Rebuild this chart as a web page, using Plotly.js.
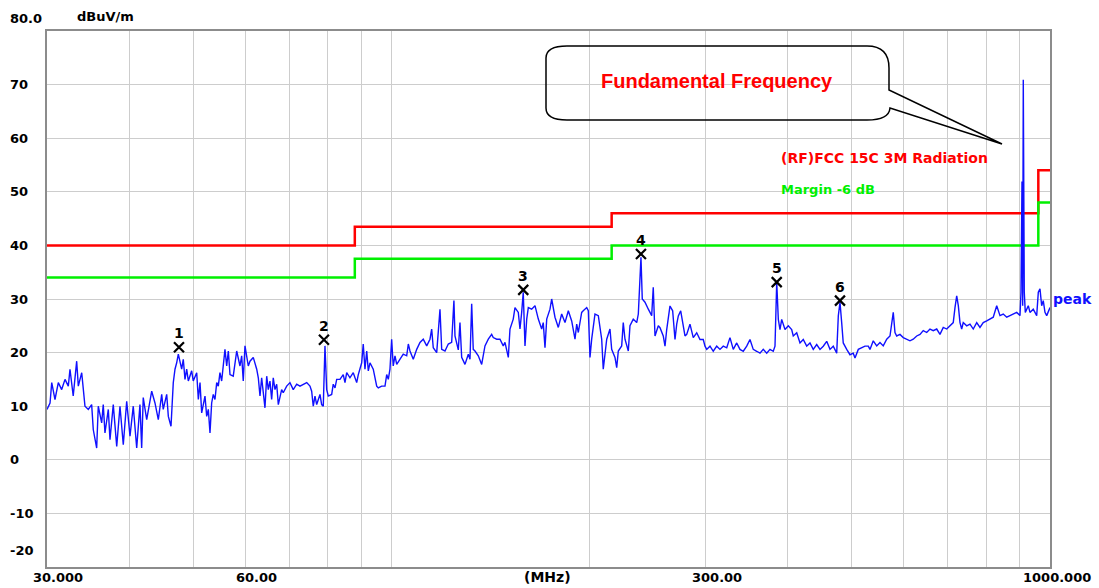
<!DOCTYPE html>
<html>
<head>
<meta charset="utf-8">
<script src="https://cdn.plot.ly/plotly-3.0.1.min.js"></script>
<style>html,body{margin:0;padding:0;background:#fff;}#chart{width:1099px;height:588px;}</style>
</head>
<body>
<div id="chart"></div>
<script>
// ---- Data ----
const peakFreq = [
30.00,30.32,30.50,30.85,31.21,31.58,31.95,32.32,32.51,32.88,33.28,33.47,33.87,34.26,34.66,35.07,35.27,35.69,35.89,36.32,36.52,36.74,37.17,37.39,37.82,38.28,38.72,39.17,39.64,40.10,40.56,41.05,41.52,41.77,42.00,42.51,43.26,43.76,44.27,44.80,45.04,45.59,45.85,46.28,46.65,46.93,47.21,47.48,48.04,48.31,48.60,48.89,49.17,49.75,50.02,50.63,50.92,51.22,51.52,52.12,52.43,52.73,53.04,53.35,53.65,53.97,54.30,54.60,54.92,55.25,55.89,56.23,56.55,56.88,57.53,58.23,58.90,59.25,59.58,59.94,60.64,
61.00,61.70,62.45,62.80,63.17,63.54,64.28,64.67,65.03,65.41,65.80,66.17,66.57,66.97,67.35,68.14,68.52,69.35,70.15,70.96,71.82,72.65,73.48,74.38,75.23,75.68,76.10,76.56,77.02,77.91,78.37,78.81,79.28,79.76,80.21,81.16,81.61,82.11,82.60,83.55,84.51,85.03,85.54,86.52,87.52,88.58,89.08,90.14,90.63,91.18,91.74,92.25,92.79,93.86,95.00,95.53,96.66,97.79,98.38,98.93,99.51,100.10,100.65,101.27,101.88,103.05,104.24,105.50,106.10,106.72,107.95,109.26,110.52,111.79,113.15,114.45,115.13,115.77,117.17,118.52,119.23,120.61,122.02,123.46,124.44,124.90,126.36,
127.10,127.86,129.35,130.86,131.63,132.41,133.14,133.95,135.51,137.12,138.71,140.33,141.99,142.78,144.52,146.18,147.86,148.76,150.50,151.38,153.12,154.05,155.85,156.77,157.70,158.57,159.54,160.50,161.40,163.31,165.22,167.15,169.13,170.06,171.09,172.13,174.11,175.14,177.18,179.25,181.37,183.49,185.63,187.83,190.01,191.16,192.23,194.51,195.58,197.96,199.07,200.24,201.43,203.77,206.15,208.60,209.75,212.30,214.74,216.02,218.53,219.85,221.08,223.70,224.94,226.30,228.95,230.29,232.94,235.77,237.10,238.49,239.31,240.40,242.70,245.53,248.44,249.82,251.34,254.27,
255.77,258.70,260.28,261.85,264.86,267.35,269.54,271.17,272.69,274.97,277.44,279.12,280.81,284.04,287.31,290.80,294.15,297.53,299.34,301.15,304.62,308.12,311.87,315.46,319.08,322.96,326.67,330.43,334.45,338.30,342.19,346.35,350.34,354.36,358.67,362.80,366.98,371.44,375.71,380.03,382.34,384.65,386.81,389.08,391.40,395.94,400.56,405.31,407.55,412.51,417.26,422.05,427.18,432.10,437.06,442.38,447.47,452.62,458.12,463.40,468.72,474.41,477.07,479.88,482.73,485.40,491.30,496.95,502.67,505.72,511.63,517.69,523.71,529.83,
532.94,539.07,545.62,551.90,558.25,565.03,571.54,578.11,581.62,585.13,591.87,598.67,605.95,612.93,619.97,627.51,634.74,642.03,649.84,657.32,664.87,672.96,680.70,688.53,696.90,704.92,713.03,717.36,721.70,725.74,730.01,734.34,738.39,747.37,755.98,764.67,773.97,782.87,791.87,801.50,810.72,820.04,830.01,839.56,849.21,859.54,869.43,879.43,890.12,900.37,903.56,906.72,908.93,910.80,914.00,917.27,926.95,932.40,943.12,954.58,959.94,965.57,971.31,976.67,982.60,988.54,1000.00
];
const peakLevel = [
9.4,10.6,14.4,11.25,14.4,13.1,15,13.75,16.9,11.9,18.4,13.75,16.25,10,9.4,10.3,5.6,2.2,10,6.9,10.3,5,9.4,3.75,10.3,2.5,10,2.8,10.9,4.4,10,2.2,10.3,2.2,11.6,7.5,12.8,10.6,7.5,12.2,9.4,12.2,8.1,6.25,14.4,16.9,18.1,19.7,16.9,18.75,15,16.9,14.7,16.6,14.7,16.25,11.25,14.4,8.75,11.9,8.1,9.4,5,10.6,12.2,11.25,14.4,13.75,16.25,14.7,20.6,17.5,20.3,15.9,15.6,20.3,17.5,19.4,14.7,21.25,17.5,
18.4,19.1,16.9,15.3,11.9,15.3,9.7,15.6,13.1,14.7,11.25,15.3,13.1,14.1,10.3,13.1,12.5,13.75,14.4,13.1,14.1,13.75,14.1,14.4,13.75,12.8,10,11.9,10.3,12.2,10.3,10,21.25,13.1,11.9,12.2,14.1,13.4,15,15,15.9,14.4,16.25,15.3,16.25,14.4,15.9,18.1,21.6,16.9,20.3,16.6,18.1,16.9,13.75,13.4,13.75,13.75,15.9,15,16.9,22.5,17.5,19.4,17.8,18.75,19.7,19.4,21.6,20.3,18.75,20.6,21.9,22.5,21.25,22.5,24.4,20.9,20,28.1,20.6,20.3,21.6,21.9,29.7,23.1,20.5,
25.6,19.1,17.8,19.7,18.75,29.1,20.6,20.3,19.4,17.8,21.25,22.5,23.4,22.8,22.5,22.5,21.25,21.9,19.1,24.4,26.25,28.4,27.5,24.4,27.5,31.25,21.25,26.25,28.4,28.1,28.75,26.25,24.4,25.6,20.9,26.25,28.1,30,26.6,24.7,27.2,25.6,27.8,25.9,22.5,25.3,23.75,27.5,27.8,28.4,27.8,19.1,22.5,27.2,26.9,22.5,16.9,22.5,24.4,20.6,19.1,17.2,20.3,21.25,25.6,22.5,20.3,25,26.25,25.6,27.2,32.5,37.8,30,29.4,28.1,26.9,32.2,23.1,25,
24.65,23.1,21.2,24.3,28.7,27.8,22.45,25.3,26.85,27.8,25,23.1,23.4,25.3,22.8,23.7,22.45,22.45,21.2,20.6,21.2,20.25,21.2,20.6,21.2,20.9,22.8,20.6,21.8,20.6,20.25,21.2,22.45,20.6,20.25,19.9,20.6,19.9,20.6,20.25,21.2,33.1,26.2,24.3,26.2,24.3,25,24.3,23.1,23.7,21.8,22.45,21.2,21.8,20.6,21.5,20.6,21.2,22.1,20.6,21.2,19.9,26.85,29.4,25.6,21.8,20.6,19.6,19.9,19,20.6,20.9,21.2,21.2,
20.6,22.2,21.25,21.9,21.25,22.5,23.1,27.5,23.75,23.1,23.4,22.8,22.5,22.2,22.5,23.1,23.4,24.1,23.75,24.4,24.1,24.4,23.4,24.7,24.4,25,25.6,28.4,30.6,28.75,25.6,24.4,25.6,25,25.3,24.4,25.6,24.7,25.6,25.9,26.25,26.6,28.75,26.9,27.2,26.6,26.9,27.2,27.5,26.9,31.25,51.9,28.75,70.9,31.25,27.5,28.75,27.5,28.1,26.9,31.25,31.9,28.75,29.7,27.5,26.9,28.4
];

const limitFreq  = [30, 88, 88, 216, 216, 960, 960, 1000];
const limitLevel = [40, 40, 43.5, 43.5, 46, 46, 54, 54];
const marginFreq  = [30, 88, 88, 216, 216, 960, 960, 1000];
const marginLevel = [34, 34, 37.5, 37.5, 40, 40, 48, 48];

const markerFreq  = [47.59, 79.0, 158.57, 239.3, 384.65, 479.88];
const markerLevel = [21.0, 22.4, 31.7, 38.4, 33.15, 29.7];
const markerLabel = ['1', '2', '3', '4', '5', '6'];

const gridFreq = [40, 50, 60, 70, 80, 90, 100, 200, 300, 400, 500, 600, 700, 800, 900];
const xTickVals = [30, 60, 300, 1000];
const xTickText = ['30.000', '60.00', '300.00', '1000.000'];
const yTickVals = [70, 60, 50, 40, 30, 20, 10, 0, -10];
const yTickText = ['70', '60', '50', '40', '30', '20', '10', '0', '-10'];

const yTopLabel = '80.0';
const yBottomLabel = '-20';
const yUnit = 'dBuV/m';
const xUnit = '(MHz)';
const limitName = '(RF)FCC 15C 3M Radiation';
const marginName = 'Margin -6 dB';
const traceName = 'peak';
const calloutText = 'Fundamental Frequency';

// ---- Layout helpers ----
const W = 1099, H = 588;
const M = {l: 47, r: 49, t: 31, b: 21};
const PW = W - M.l - M.r, PH = H - M.t - M.b;
const px = x => (x - M.l) / PW;
const py = y => 1 - (y - M.t) / PH;

const FAM = 'DejaVu Sans, Arial, sans-serif';
const tickFont = {family: FAM, size: 13, color: '#000'};
const BOLD = s => '<b>' + s + '</b>';
const RED = '#ff0000', GREEN = '#00f000', BLUE = '#1010ff';

const traces = [
  {x: limitFreq, y: limitLevel, mode: 'lines', line: {color: RED, width: 2.5}, hoverinfo: 'skip'},
  {x: marginFreq, y: marginLevel, mode: 'lines', line: {color: GREEN, width: 2.5}, hoverinfo: 'skip'},
  {x: peakFreq, y: peakLevel, mode: 'lines', line: {color: BLUE, width: 1.4}, hoverinfo: 'skip'},
  {x: markerFreq, y: markerLevel, mode: 'markers',
   marker: {symbol: 'x-thin-open', size: 10, color: '#000', line: {color: '#000', width: 2.2}}, hoverinfo: 'skip'}
];

const annotations = [];
yTickVals.forEach((v, i) => annotations.push({
  xref: 'paper', yref: 'y', x: px(8), y: v, xanchor: 'left', yanchor: 'middle',
  text: BOLD(yTickText[i]), showarrow: false, font: tickFont
}));
annotations.push({xref: 'paper', yref: 'paper', x: px(8), y: py(18), xanchor: 'left', yanchor: 'middle',
  text: BOLD(yTopLabel), showarrow: false, font: tickFont});
annotations.push({xref: 'paper', yref: 'paper', x: px(8), y: py(550), xanchor: 'left', yanchor: 'middle',
  text: BOLD(yBottomLabel), showarrow: false, font: tickFont});
annotations.push({xref: 'paper', yref: 'paper', x: px(75), y: py(17), xanchor: 'left', yanchor: 'middle',
  text: BOLD(yUnit), showarrow: false, font: tickFont});
xTickVals.forEach((v, i) => {
  const last = i === xTickVals.length - 1;
  annotations.push({
    xref: last ? 'paper' : 'x', yref: 'paper', x: last ? px(1093) : Math.log10(v), y: py(577),
    xanchor: last ? 'right' : 'center', yanchor: 'middle', xshift: last ? 0 : 11,
    text: BOLD(xTickText[i]), showarrow: false, font: tickFont
  });
});
annotations.push({xref: 'paper', yref: 'paper', x: px(547), y: py(577), xanchor: 'center', yanchor: 'middle',
  text: BOLD(xUnit), showarrow: false, font: Object.assign({}, tickFont, {size: 14})});
markerFreq.forEach((f, i) => annotations.push({
  xref: 'x', yref: 'y', x: Math.log10(f), y: markerLevel[i], yshift: 14, xanchor: 'center', yanchor: 'middle',
  text: BOLD(markerLabel[i]), showarrow: false, font: {family: FAM, size: 14, color: '#000'}
}));
annotations.push({xref: 'paper', yref: 'paper', x: px(779), y: py(158), xanchor: 'left', yanchor: 'middle',
  text: BOLD(limitName), showarrow: false, font: Object.assign({}, tickFont, {color: RED, size: 14})});
annotations.push({xref: 'paper', yref: 'paper', x: px(779), y: py(190), xanchor: 'left', yanchor: 'middle',
  text: BOLD(marginName), showarrow: false, font: Object.assign({}, tickFont, {color: GREEN})});
annotations.push({xref: 'paper', yref: 'paper', x: px(1051), y: py(299), xanchor: 'left', yanchor: 'middle',
  text: BOLD(traceName), showarrow: false, font: Object.assign({}, tickFont, {color: BLUE, size: 14})});
annotations.push({xref: 'paper', yref: 'paper', x: px(717), y: py(81), xanchor: 'center', yanchor: 'middle',
  text: BOLD(calloutText), showarrow: false,
  font: {family: 'Liberation Sans, Arial, sans-serif', size: 20, color: RED}});

// callout bubble with pointer
const P = (x, y) => px(x).toFixed(5) + ',' + py(y).toFixed(5);
const calloutPath = 'M' + P(567, 46) + ' L' + P(867, 46) + ' Q' + P(889, 46) + ' ' + P(889, 68) +
  ' L' + P(889, 90) + ' L' + P(1002, 144) + ' L' + P(890, 108) + ' Q' + P(889, 120) + ' ' + P(867, 120) +
  ' L' + P(567, 120) + ' Q' + P(546, 120) + ' ' + P(546, 108) + ' L' + P(546, 58) + ' Q' + P(546, 46) + ' ' + P(567, 46) + ' Z';

const layout = {
  width: W, height: H, margin: M, showlegend: false,
  paper_bgcolor: '#ffffff', plot_bgcolor: '#ffffff',
  xaxis: {type: 'log', range: [Math.log10(30), Math.log10(1000)], tickvals: gridFreq, showticklabels: false,
    ticks: '', showgrid: true, gridcolor: '#cdcdcd', gridwidth: 1, zeroline: false,
    showline: true, linecolor: '#8c8c8c', linewidth: 2, mirror: true, fixedrange: true},
  yaxis: {range: [-20, 80], tickvals: yTickVals, showticklabels: false, ticks: '',
    showgrid: true, gridcolor: '#cdcdcd', gridwidth: 1, zeroline: false,
    showline: true, linecolor: '#8c8c8c', linewidth: 2, mirror: true, fixedrange: true},
  annotations: annotations,
  shapes: [{type: 'path', xref: 'paper', yref: 'paper', path: calloutPath,
    line: {color: '#000', width: 1.5}, fillcolor: 'rgba(0,0,0,0)', layer: 'above'}]
};

Plotly.newPlot('chart', traces, layout, {staticPlot: true, displayModeBar: false});
</script>
</body>
</html>
